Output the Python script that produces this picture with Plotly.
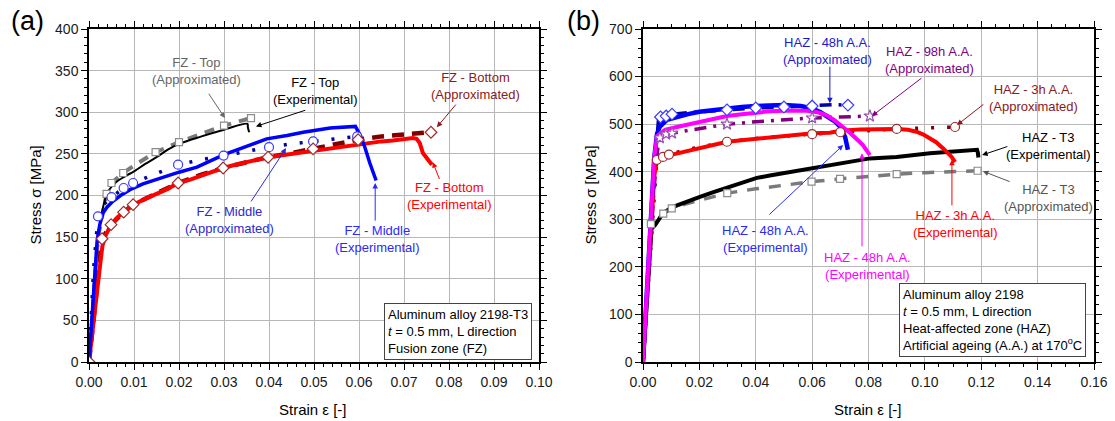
import plotly.graph_objects as go

FONT = "Arial, Liberation Sans, sans-serif"

# ---------------- Panel (a): Fusion zone ----------------
top_exp_s = [0, 0.0008, 0.0016, 0.0024, 0.003, 0.0036, 0.0045, 0.006, 0.008, 0.01, 0.0125, 0.015,
             0.0175, 0.02, 0.025, 0.03, 0.0352, 0.0353, 0.0356]
top_exp_v = [0, 70, 130, 165, 183, 196, 207, 216, 223, 229, 238, 246, 255, 262, 271, 279, 286, 282, 276]

top_app_s = [0, 0.002, 0.0039, 0.005, 0.0076, 0.01, 0.0148, 0.02, 0.025, 0.03, 0.036]
top_app_v = [0, 150, 202, 215, 227, 236, 252, 264, 274, 284, 293]
top_mk_s = [0.0039, 0.005, 0.0076, 0.0148, 0.02, 0.03, 0.036]
top_mk_v = [202, 215, 227, 252, 264, 284, 293]

mid_exp_s = [0, 0.0006, 0.0012, 0.0018, 0.0024, 0.0031, 0.004, 0.0053, 0.007, 0.0091, 0.012, 0.0164,
             0.02, 0.024, 0.03, 0.035, 0.0395, 0.044, 0.0476, 0.0536, 0.0575, 0.0592, 0.0603, 0.0613,
             0.0624, 0.0632, 0.0638]
mid_exp_v = [0, 45, 100, 145, 165, 179, 186, 193, 200, 207, 214, 222, 228, 234, 249, 259, 268, 272,
             276, 281, 283, 283, 272, 258, 239, 226, 218]

mid_app_s = [0, 0.001, 0.002, 0.003, 0.005, 0.0077, 0.0098, 0.015, 0.0198, 0.025, 0.0299, 0.035,
             0.04, 0.045, 0.0498, 0.055, 0.0596]
mid_app_v = [0, 110, 175, 188, 198, 209, 215, 227, 237, 243, 248, 253, 258, 262, 265, 268, 271]
mid_mk_s = [0.002, 0.005, 0.0077, 0.0098, 0.0198, 0.0299, 0.04, 0.0498, 0.0596]
mid_mk_v = [175, 198, 209, 215, 237, 248, 258, 265, 271]

bot_exp_s = [0, 0.0006, 0.0013, 0.002, 0.0025, 0.003, 0.0037, 0.0047, 0.006, 0.0076, 0.0098, 0.0125,
             0.015, 0.0175, 0.0198, 0.0225, 0.025, 0.0275, 0.0298, 0.0325, 0.035, 0.0375, 0.0398,
             0.0425, 0.045, 0.0476, 0.05, 0.0525, 0.055, 0.0575, 0.06, 0.0624, 0.065, 0.0675, 0.0698,
             0.072, 0.0728, 0.0735, 0.0742, 0.075, 0.0758, 0.0762]
bot_exp_v = [0, 26, 62, 95, 118, 140, 152, 163, 172, 180, 189, 196, 202, 208, 215, 219, 224, 229,
             233, 237, 240, 243, 246, 248, 250, 252, 254, 256, 258, 259, 262, 263, 265, 266, 267,
             269, 268, 263, 251, 245, 239, 237]

bot_app_s = [0, 0.001, 0.002, 0.0029, 0.0049, 0.0077, 0.0098, 0.015, 0.0198, 0.025, 0.0298, 0.035,
             0.0398, 0.045, 0.0498, 0.055, 0.0598, 0.065, 0.07, 0.076]
bot_app_v = [0, 50, 100, 148, 165, 180, 189, 203, 215, 225, 233, 240, 246, 251, 256, 262, 267, 271,
             273, 276]
bot_mk_s = [0, 0.0029, 0.0049, 0.0077, 0.0098, 0.0198, 0.0298, 0.0398, 0.0498, 0.0598, 0.076]
bot_mk_v = [0, 148, 165, 180, 189, 215, 233, 246, 256, 267, 276]

# ---------------- Panel (b): Heat-affected zone ----------------
t3_exp_s = [0, 0.001, 0.002, 0.003, 0.0043, 0.0071, 0.0107, 0.015, 0.0202, 0.025, 0.0298, 0.035,
            0.0404, 0.045, 0.0497, 0.055, 0.0603, 0.0663, 0.07, 0.077, 0.0805, 0.09, 0.0955, 0.1018,
            0.109, 0.1185, 0.1188, 0.119]
t3_exp_v = [0, 100, 200, 280, 288, 313, 326, 336, 347, 357, 366, 377, 387, 392, 397, 403, 408, 415,
            418, 425, 428, 431, 435, 439, 442, 446, 440, 430]

t3_app_s = [0, 0.0015, 0.0028, 0.0072, 0.0102, 0.015, 0.02, 0.0299, 0.04, 0.05, 0.0598, 0.0699,
            0.08, 0.09, 0.1, 0.11, 0.1187]
t3_app_v = [0, 150, 290, 312, 323, 332, 340, 355, 364, 372, 379, 385, 390, 395, 398, 400, 402]
t3_mk_s = [0.0028, 0.0072, 0.0102, 0.0299, 0.0598, 0.0699, 0.09, 0.1187]
t3_mk_v = [290, 312, 323, 355, 379, 385, 395, 402]

h3_exp_s = [0, 0.001, 0.002, 0.003, 0.004, 0.0048, 0.006, 0.0096, 0.015, 0.0202, 0.025, 0.0298,
            0.035, 0.0404, 0.045, 0.0497, 0.055, 0.0603, 0.0663, 0.07, 0.077, 0.084, 0.09, 0.094,
            0.097, 0.0995, 0.1018, 0.104, 0.1065, 0.108, 0.1095, 0.1107]
h3_exp_v = [0, 100, 200, 300, 390, 420, 425, 435, 443, 450, 457, 463, 466, 469, 471, 473, 477, 481,
            482, 486, 489, 490, 490, 488, 484, 478, 471, 462, 449, 440, 431, 420]

h3_app_s = [0, 0.002, 0.004, 0.0049, 0.0071, 0.0092, 0.015, 0.02, 0.0298, 0.04, 0.05, 0.06, 0.07,
            0.08, 0.09, 0.1, 0.1107]
h3_app_v = [0, 180, 370, 425, 431, 436, 446, 452, 463, 470, 475, 479, 483, 487, 490, 492, 494]
h3_mk_s = [0.0049, 0.0071, 0.0092, 0.0298, 0.06, 0.07, 0.09, 0.1107]
h3_mk_v = [425, 431, 436, 463, 479, 483, 490, 494]

h48_exp_s = [0, 0.001, 0.002, 0.003, 0.004, 0.005, 0.006, 0.0085, 0.012, 0.016, 0.02, 0.025, 0.03,
             0.035, 0.04, 0.045, 0.05, 0.056, 0.06, 0.063, 0.066, 0.068, 0.07, 0.0717, 0.0727]
h48_exp_v = [0, 110, 220, 330, 430, 480, 495, 509, 515, 521, 526, 530, 533, 536, 538, 539, 540, 538,
             533, 525, 515, 506, 494, 473, 446]

h48_app_s = [0, 0.002, 0.004, 0.0055, 0.0062, 0.0082, 0.0103, 0.02, 0.0298, 0.04, 0.05, 0.06,
             0.068, 0.0727]
h48_app_v = [0, 200, 400, 510, 515, 517, 521, 526, 530, 534, 536, 538, 541, 540]
h48_mk_s = [0.0062, 0.0082, 0.0103, 0.0298, 0.04, 0.05, 0.06, 0.0727]
h48_mk_v = [515, 517, 521, 530, 534, 536, 538, 540]

mag_exp_s = [0, 0.001, 0.002, 0.003, 0.004, 0.005, 0.0078, 0.012, 0.0202, 0.025, 0.0298, 0.035,
             0.0404, 0.045, 0.05, 0.055, 0.058, 0.062, 0.065, 0.068, 0.0724, 0.0734, 0.077, 0.078,
             0.0805]
mag_exp_v = [0, 110, 220, 330, 430, 475, 488, 494, 505, 511, 517, 521, 525, 527, 528, 528, 528, 525,
             519, 508, 488, 482, 462, 456, 435]

h98_app_s = [0, 0.002, 0.004, 0.0055, 0.006, 0.0082, 0.0103, 0.02, 0.0298, 0.04, 0.05, 0.06, 0.07,
             0.0805]
h98_app_v = [0, 180, 370, 465, 471, 479, 481, 492, 500, 505, 509, 513, 515, 517]
h98_mk_s = [0.006, 0.0082, 0.0103, 0.0298, 0.06, 0.0805]
h98_mk_v = [471, 479, 481, 500, 513, 517]

BLACK = "#000000"
GRAY = "#7a7a7a"
BLUE = "#0000ff"
DBLUE = "#0000a8"
RED = "#ff0000"
DRED = "#800000"
MAG = "#ff00ff"
PURP = "#800080"

fig = go.Figure()


def line(s, v, color, width, dash="solid", xa="x", ya="y", shape="linear"):
    fig.add_trace(go.Scatter(x=s, y=v, mode="lines", xaxis=xa, yaxis=ya, showlegend=False,
                             line=dict(color=color, width=width, dash=dash, shape=shape)))


def marks(s, v, symbol, color, size=8, xa="x", ya="y"):
    fig.add_trace(go.Scatter(x=s, y=v, mode="markers", xaxis=xa, yaxis=ya, showlegend=False,
                             marker=dict(symbol=symbol, size=size, color="white",
                                         line=dict(color=color, width=1.2))))


# Panel (a) lines
line(top_app_s, top_app_v, GRAY, 4, "10px,8px")
line(mid_app_s, mid_app_v, DBLUE, 3.5, "3px,13px")
line(bot_app_s, bot_app_v, DRED, 4.5, "12px,8px")
line(top_exp_s, top_exp_v, BLACK, 2, shape="spline")
line(bot_exp_s, bot_exp_v, RED, 4)
line(mid_exp_s, mid_exp_v, BLUE, 3.5)
marks(top_mk_s, top_mk_v, "square", "#8c8c8c", 7)
marks(mid_mk_s, mid_mk_v, "circle", "#3a3aff", 9)
marks(bot_mk_s, bot_mk_v, "diamond", "#a02a2a", 9)

# Panel (b) lines
line(t3_app_s, t3_app_v, GRAY, 3.5, "12px,10px", "x2", "y2")
line(h3_app_s, h3_app_v, DRED, 3.5, "3px,13px", "x2", "y2")
line(h98_app_s, h98_app_v, PURP, 3.5, "12px,7px,3px,7px", "x2", "y2")
line(h48_app_s, h48_app_v, DBLUE, 3.5, "12px,7px,3px,7px", "x2", "y2")
line(t3_exp_s, t3_exp_v, BLACK, 4, xa="x2", ya="y2")
line(h3_exp_s, h3_exp_v, RED, 4, xa="x2", ya="y2")
line(h48_exp_s, h48_exp_v, BLUE, 4.5, xa="x2", ya="y2")
line(mag_exp_s, mag_exp_v, MAG, 4, xa="x2", ya="y2")
marks(t3_mk_s, t3_mk_v, "square", "#8c8c8c", 7, "x2", "y2")
marks(h3_mk_s, h3_mk_v, "circle", "#a02a2a", 9, "x2", "y2")
marks(h48_mk_s, h48_mk_v, "diamond", "#3a3aff", 9, "x2", "y2")
marks(h98_mk_s, h98_mk_v, "star", "#9a50b0", 9, "x2", "y2")

W, H = 1115, 421
axis_common = dict(showline=True, linecolor="black", linewidth=1.5, mirror="allticks",
                   ticks="outside", ticklen=6, tickwidth=1.3, tickcolor="black",
                   showgrid=True, gridcolor="#b8b8b8", gridwidth=1, zeroline=False,
                   automargin=False,
                   tickfont=dict(family=FONT, size=14, color="#1a1a1a"))

fig.update_layout(
    width=W, height=H, margin=dict(l=0, r=0, t=0, b=0, autoexpand=False),
    paper_bgcolor="white", plot_bgcolor="white",
    font=dict(family=FONT, size=13, color="black"),
    xaxis=dict(domain=[89 / W, 539 / W], range=[0, 0.1], dtick=0.01, tickformat=".2f", anchor="y",
               minor=dict(dtick=0.002, ticks="outside", ticklen=3, tickcolor="black", showgrid=False),
               **axis_common),
    yaxis=dict(domain=[1 - 362 / H, 1 - 29 / H], range=[0, 400], dtick=50, anchor="x",
               minor=dict(dtick=10, ticks="outside", ticklen=3, tickcolor="black", showgrid=False),
               **axis_common),
    xaxis2=dict(domain=[643 / W, 1094 / W], range=[0, 0.16], dtick=0.02, tickformat=".2f", anchor="y2",
                minor=dict(dtick=0.005, ticks="outside", ticklen=3, tickcolor="black", showgrid=False),
                **axis_common),
    yaxis2=dict(domain=[1 - 362 / H, 1 - 29 / H], range=[0, 700], dtick=100, anchor="x2",
                minor=dict(dtick=20, ticks="outside", ticklen=3, tickcolor="black", showgrid=False),
                **axis_common),
)

ann = []


def label(text, x, y, color, xr="x", yr="y"):
    ann.append(dict(text=text, x=x, y=y, xref=xr, yref=yr, showarrow=False, xanchor="center",
                    yanchor="middle", font=dict(family=FONT, size=13, color=color)))


def arrow(tip, tail, color, xr="x", yr="y"):
    ann.append(dict(text="", x=tip[0], y=tip[1], ax=tail[0], ay=tail[1], xref=xr, yref=yr,
                    axref=xr, ayref=yr, showarrow=True, arrowhead=2, arrowsize=1.1,
                    arrowwidth=1, arrowcolor=color, standoff=0, startstandoff=0))


# Panel (a) annotations
label("FZ - Top<br>(Approximated)", 0.0239, 349, "#666666")
arrow((0.0302, 293), (0.0264, 324), "#666666")
label("FZ - Top<br>(Experimental)", 0.0504, 325, "black")
arrow((0.0371, 283), (0.0484, 303), "black")
label("FZ - Bottom<br>(Approximated)", 0.0858, 331, "#8b1a1a")
arrow((0.0773, 282), (0.0818, 311), "#8b1a1a")
label("FZ - Bottom<br>(Experimental)", 0.0802, 200, RED)
arrow((0.0764, 240), (0.078, 218), RED)
label("FZ - Middle<br>(Approximated)", 0.0313, 170, "#2a2ad0")
arrow((0.0438, 257), (0.0358, 191), "#2a2ad0")
label("FZ - Middle<br>(Experimental)", 0.064, 148, "#2a2aff")
arrow((0.0636, 215), (0.0636, 168), "#2a2aff")

# Panel (b) annotations
label("HAZ - 48h A.A.<br>(Approximated)", 0.0656, 654, "#1a1ad0", "x2", "y2")
arrow((0.0663, 544), (0.0663, 624), "#1a1ad0", "x2", "y2")
label("HAZ - 98h A.A.<br>(Approximated)", 0.1018, 635, PURP, "x2", "y2")
arrow((0.0812, 517), (0.0993, 599), PURP, "x2", "y2")
label("HAZ - 3h A.A.<br>(Approximated)", 0.1384, 556, "#8b1a1a", "x2", "y2")
arrow((0.1114, 498), (0.1213, 544), "#8b1a1a", "x2", "y2")
label("HAZ - T3<br>(Experimental)", 0.1437, 454, "black", "x2", "y2")
arrow((0.1203, 435), (0.1298, 454), "black", "x2", "y2")
label("HAZ - T3<br>(Approximated)", 0.1437, 344, "#555555", "x2", "y2")
arrow((0.1206, 401), (0.1306, 378), "#555555", "x2", "y2")
label("HAZ - 48h A.A.<br>(Experimental)", 0.0433, 258, "#2a2aff", "x2", "y2")
arrow((0.071, 456), (0.0443, 307), "#2a2aff", "x2", "y2")
label("HAZ - 48h A.A.<br>(Experimental)", 0.0798, 202, MAG, "x2", "y2")
arrow((0.0777, 439), (0.0777, 240), MAG, "x2", "y2")
label("HAZ - 3h A.A.<br>(Experimental)", 0.111, 291, RED, "x2", "y2")
arrow((0.1096, 425), (0.1096, 326), RED, "x2", "y2")

# info boxes
ann.append(dict(text="Aluminum alloy 2198-T3<br><i>t</i> = 0.5 mm, L direction<br>Fusion zone (FZ)",
                x=384 / W, y=1 - 303 / H, xref="paper", yref="paper", xanchor="left", yanchor="top",
                align="left", showarrow=False, bgcolor="white", bordercolor="#444444",
                borderwidth=1, borderpad=3, font=dict(family=FONT, size=13, color="black")))
ann.append(dict(text="Aluminum alloy 2198<br><i>t</i> = 0.5 mm, L direction<br>Heat-affected zone (HAZ)"
                     "<br>Artificial ageing (A.A.) at 170<sup>o</sup>C",
                x=899 / W, y=1 - 283 / H, xref="paper", yref="paper", xanchor="left", yanchor="top",
                align="left", showarrow=False, bgcolor="white", bordercolor="#444444",
                borderwidth=1, borderpad=3, font=dict(family=FONT, size=13, color="black")))

# axis titles
for xc in (313, 868):
    ann.append(dict(text="Strain ε [-]", x=xc / W, y=1 - 409 / H, xref="paper", yref="paper",
                    showarrow=False, xanchor="center", yanchor="middle",
                    font=dict(family=FONT, size=15, color="black")))
for xc in (35, 590):
    ann.append(dict(text="Stress σ [MPa]", x=xc / W, y=1 - 195.5 / H, xref="paper", yref="paper",
                    showarrow=False, xanchor="center", yanchor="middle", textangle=-90,
                    font=dict(family=FONT, size=15, color="black")))

# panel labels
ann.append(dict(text="(a)", x=27 / W, y=1 - 21 / H, xref="paper", yref="paper", showarrow=False,
                xanchor="center", yanchor="middle", font=dict(family=FONT, size=27, color="black")))
ann.append(dict(text="(b)", x=583 / W, y=1 - 21 / H, xref="paper", yref="paper", showarrow=False,
                xanchor="center", yanchor="middle", font=dict(family=FONT, size=27, color="black")))

fig.update_layout(annotations=ann)
fig.write_html("out.html")
